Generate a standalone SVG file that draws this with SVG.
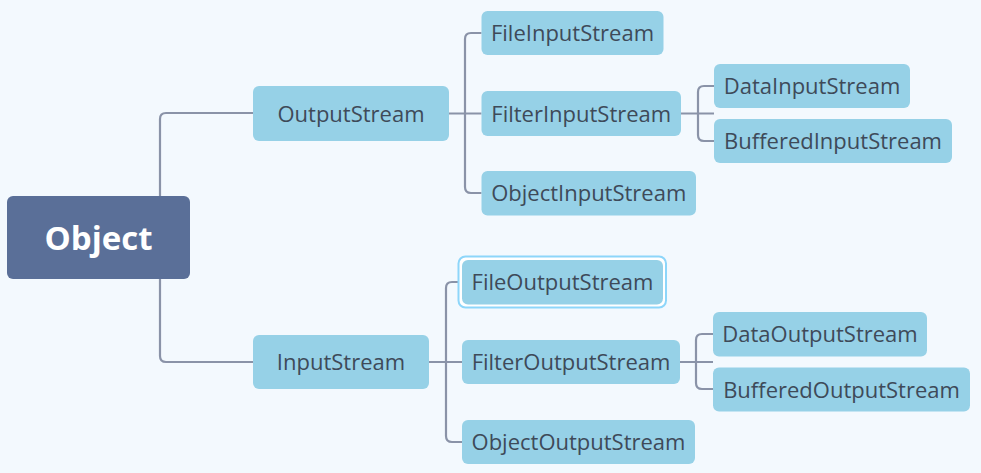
<svg xmlns="http://www.w3.org/2000/svg" width="981" height="473" viewBox="0 0 981 473">
<style>
.bg{fill:#f3f9fe}
.n rect{fill:#96d1e7}
.n text{font-family:"Open Sans","Noto Sans",sans-serif;font-size:22px;fill:#3e4a59;text-anchor:middle}
.root rect{fill:#5a6f98}
.root text{font-family:"Open Sans","Noto Sans",sans-serif;font-size:33px;font-weight:bold;fill:#ffffff;text-anchor:middle}
.c path{fill:none;stroke:#8a93a8;stroke-width:2.2}
.n rect.hl{fill:#ffffff;stroke:#8dd6fa;stroke-width:2}
</style>
<rect class="bg" x="0" y="0" width="981" height="473"/>
<g id="connectors" class="c">
<path d="M160,196 V119 Q160,113 166,113 H253"/>
<path d="M160,279 V356 Q160,362 166,362 H253"/>
<path d="M449,113.5 H481.5"/>
<path d="M481.5,33 H471 Q465,33 465,39 V187 Q465,193 471,193 H481.5"/>
<path d="M681,113.5 H714"/>
<path d="M714,86 H704 Q698,86 698,92 V135 Q698,141 704,141 H714"/>
<path d="M429,362 H462"/>
<path d="M462,282 H452 Q446,282 446,288 V436 Q446,442 452,442 H462"/>
<path d="M680,362 H713"/>
<path d="M713,334 H702 Q696,334 696,340 V383 Q696,389 702,389 H713"/>
</g>
<g id="object" class="root"><rect x="7" y="196" width="183" height="83" rx="6"/><text x="98.5" y="249.5">Object</text></g>
<g id="outputstream" class="n"><rect x="253" y="86" width="196" height="55" rx="6"/><text x="351" y="121.5">OutputStream</text></g>
<g id="inputstream" class="n"><rect x="253" y="335" width="176" height="54" rx="6"/><text x="341" y="370">InputStream</text></g>
<g id="fileinputstream" class="n"><rect x="481.5" y="11" width="182" height="44" rx="6"/><text x="572.5" y="41">FileInputStream</text></g>
<g id="filterinputstream" class="n"><rect x="481.5" y="91" width="199.5" height="45" rx="6"/><text x="581.25" y="121.5">FilterInputStream</text></g>
<g id="objectinputstream" class="n"><rect x="481.5" y="171" width="214.5" height="44.5" rx="6"/><text x="588.75" y="201">ObjectInputStream</text></g>
<g id="datainputstream" class="n"><rect x="714" y="64" width="196" height="44" rx="6"/><text x="812" y="94">DataInputStream</text></g>
<g id="bufferedinputstream" class="n"><rect x="714" y="119" width="238" height="44" rx="6"/><text x="833" y="149">BufferedInputStream</text></g>
<g id="fileoutputstream" class="n"><rect class="hl" x="458.5" y="256.5" width="207.5" height="51" rx="7"/><rect x="462" y="260" width="201" height="44.5" rx="6"/><text x="562.5" y="290">FileOutputStream</text></g>
<g id="filteroutputstream" class="n"><rect x="462" y="340" width="218" height="44" rx="6"/><text x="571" y="370">FilterOutputStream</text></g>
<g id="objectoutputstream" class="n"><rect x="462" y="420" width="233" height="44" rx="6"/><text x="578.5" y="450">ObjectOutputStream</text></g>
<g id="dataoutputstream" class="n"><rect x="713" y="312" width="214" height="44.5" rx="6"/><text x="820" y="342">DataOutputStream</text></g>
<g id="bufferedoutputstream" class="n"><rect x="713" y="367.5" width="257" height="44" rx="6"/><text x="841.5" y="397.5">BufferedOutputStream</text></g>
</svg>
